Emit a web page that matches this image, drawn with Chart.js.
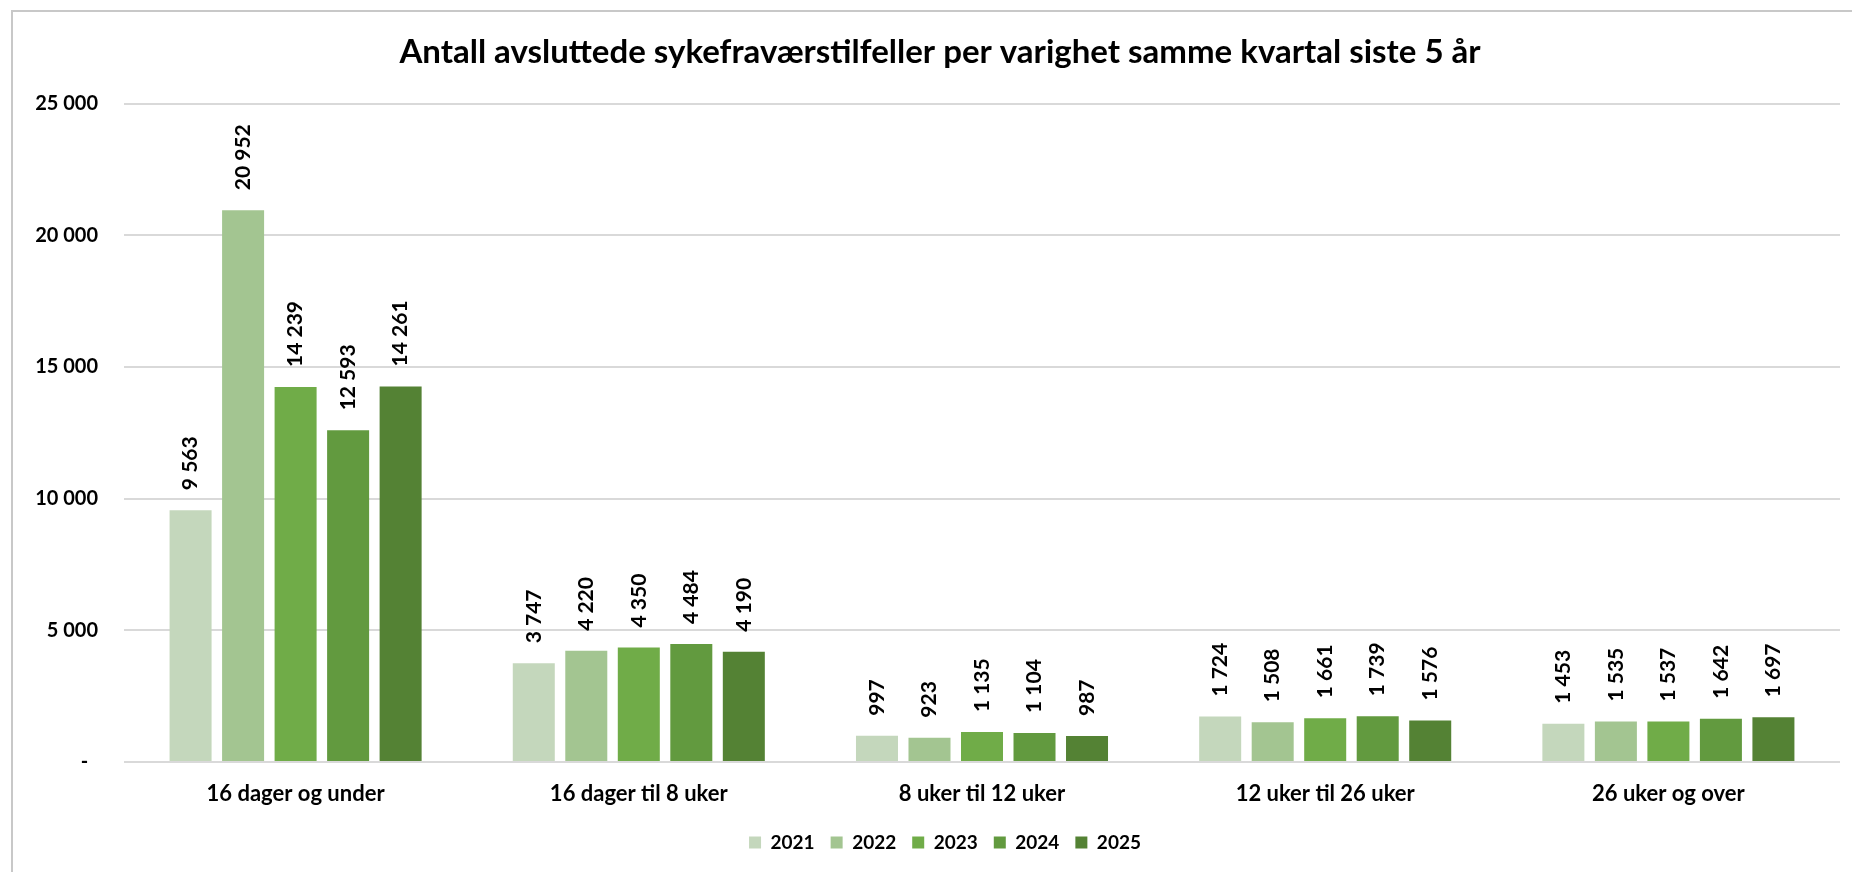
<!DOCTYPE html>
<html>
<head>
<meta charset="utf-8">
<script src="https://cdn.jsdelivr.net/npm/chart.js@4.4.1/dist/chart.umd.min.js"></script>
<style>
  body { margin: 0; background: #fff; }
  #ramme {
    position: absolute; left: 11px; top: 10px; width: 1860px; height: 880px;
    border-left: 2px solid #C8C8C8; border-top: 2px solid #C8C8C8;
  }
  canvas { position: absolute; left: 0; top: 0; }
</style>
</head>
<body>
<div id="ramme"></div>
<canvas id="myChart" width="1852" height="872"></canvas>
<script>
// Varighetsgrupper og antall avsluttede tilfeller per år
const kategorier = ['16 dager og under', '16 dager til 8 uker', '8 uker til 12 uker', '12 uker til 26 uker', '26 uker og over'];
const aar = ['2021', '2022', '2023', '2024', '2025'];
const verdier2021 = [9563, 3747, 997, 1724, 1453];
const verdier2022 = [20952, 4220, 923, 1508, 1535];
const verdier2023 = [14239, 4350, 1135, 1661, 1537];
const verdier2024 = [12593, 4484, 1104, 1739, 1642];
const verdier2025 = [14261, 4190, 987, 1576, 1697];
const farger = ['#C4D7BC', '#A3C591', '#70AC48', '#629A3F', '#548234'];

const font = 'Lato, "Open Sans", sans-serif';

function tusen(n) {
  return String(n).replace(/\B(?=(\d{3})+(?!\d))/g, ' ');
}

// tall over hver søyle, rotert 90 grader
const verdiEtiketter = {
  id: 'verdiEtiketter',
  afterDatasetsDraw(chart) {
    const ctx = chart.ctx;
    ctx.save();
    ctx.font = 'bold 21px ' + font;
    ctx.fillStyle = '#000';
    ctx.textAlign = 'left';
    ctx.textBaseline = 'middle';
    chart.data.datasets.forEach((ds, i) => {
      chart.getDatasetMeta(i).data.forEach((bar, j) => {
        ctx.save();
        ctx.translate(bar.x, bar.y - 20);
        ctx.rotate(-Math.PI / 2);
        ctx.fillText(tusen(ds.data[j]), 0, 0);
        ctx.restore();
      });
    });
    ctx.restore();
  }
};

// flytt tittel og forklaring litt mot høyre, uten å endre plottområdet
const midtstill = {
  id: 'midtstill',
  afterLayout(chart) {
    chart.titleBlock.left = 40;
    chart.legend.left = 50;
  }
};

const serier = [verdier2021, verdier2022, verdier2023, verdier2024, verdier2025];

new Chart(document.getElementById('myChart'), {
  type: 'bar',
  data: {
    labels: kategorier,
    datasets: serier.map((data, i) => ({
      label: aar[i],
      data: data,
      backgroundColor: farger[i],
      categoryPercentage: 0.765,
      barPercentage: 0.8
    }))
  },
  options: {
    responsive: false,
    animation: false,
    layout: { padding: { left: 20, right: 12, top: 0, bottom: 10 } },
    plugins: {
      title: {
        display: true,
        text: 'Antall avsluttede sykefraværstilfeller per varighet samme kvartal siste 5 år',
        color: '#000',
        font: { family: font, size: 33, weight: 'bold' },
        padding: { top: 33, bottom: 31 }
      },
      legend: {
        position: 'bottom',
        labels: {
          color: '#000',
          font: { family: font, size: 19, weight: 'bold' },
          boxWidth: 12,
          boxHeight: 12,
          padding: 16
        }
      },
      tooltip: { enabled: false }
    },
    scales: {
      x: {
        grid: { display: false },
        border: { display: false },
        ticks: {
          color: '#000',
          font: { family: font, size: 22, weight: 'bold' },
          padding: 11,
          maxRotation: 0
        },
        afterFit(scale) { scale.height = 55; }
      },
      y: {
        min: 0,
        max: 25000,
        grid: { color: '#D9D9D9', lineWidth: 2, drawTicks: false },
        border: { display: false },
        ticks: {
          stepSize: 5000,
          color: '#000',
          font: { family: font, size: 20, weight: 'bold' },
          padding: 26,
          callback: v => v === 0 ? '-  ' : tusen(v)
        },
        afterFit(scale) { scale.width = 104; }
      }
    }
  },
  plugins: [verdiEtiketter, midtstill]
});
</script>
</body>
</html>
